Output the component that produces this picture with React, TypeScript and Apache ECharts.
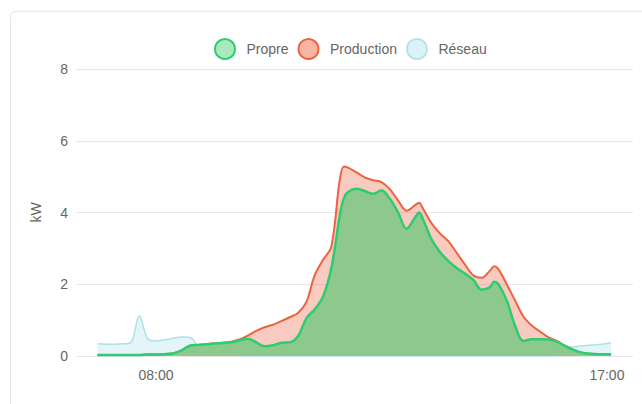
import React, { useEffect, useRef } from "react";
import * as echarts from "echarts";

const times = [
  "06:50", "07:00", "07:10", "07:20", "07:30", "07:40", "07:50", "08:00", "08:10", "08:20",
  "08:30", "08:40", "08:50", "09:00", "09:10", "09:20", "09:30", "09:40", "09:50", "10:00",
  "10:10", "10:20", "10:30", "10:40", "10:50", "11:00", "11:10", "11:20", "11:30", "11:40",
  "11:45", "11:50", "12:00", "12:10", "12:20", "12:30", "12:40", "12:50", "13:00", "13:10",
  "13:15", "13:20", "13:30", "13:40", "13:50", "14:00", "14:10", "14:20", "14:30", "14:40",
  "14:45", "14:50", "15:00", "15:10", "15:20", "15:30", "15:40", "15:50", "16:00", "16:10",
  "16:20", "16:30", "16:40", "16:50", "17:00", "17:05",
];

const propre = [
  0.03, 0.03, 0.03, 0.03, 0.03, 0.03, 0.04, 0.04, 0.05, 0.07,
  0.15, 0.28, 0.31, 0.33, 0.35, 0.36, 0.38, 0.44, 0.48, 0.38,
  0.27, 0.3, 0.37, 0.38, 0.55, 1.05, 1.3, 1.65, 2.45, 3.9,
  4.4, 4.57, 4.66, 4.6, 4.52, 4.62, 4.38, 4.0, 3.55, 3.85,
  4.0, 3.8, 3.25, 2.9, 2.65, 2.45, 2.3, 2.12, 1.85, 1.92,
  2.07, 2.0, 1.55, 0.85, 0.42, 0.47, 0.47, 0.46, 0.4, 0.28,
  0.17, 0.09, 0.06, 0.05, 0.05, 0.05,
];

const production = [
  0.03, 0.03, 0.03, 0.03, 0.03, 0.03, 0.04, 0.04, 0.05, 0.07,
  0.15, 0.28, 0.31, 0.33, 0.35, 0.37, 0.4, 0.46, 0.57, 0.7,
  0.8, 0.87, 0.97, 1.08, 1.2, 1.5, 2.25, 2.68, 3.05, 4.9,
  5.28, 5.25, 5.12, 4.98, 4.9, 4.85, 4.65, 4.33, 4.05, 4.2,
  4.27, 4.1, 3.7, 3.42, 3.2, 2.88, 2.55, 2.25, 2.18, 2.38,
  2.5, 2.42, 2.0, 1.55, 1.1, 0.85, 0.68, 0.52, 0.42, 0.28,
  0.17, 0.09, 0.06, 0.05, 0.05, 0.05,
];

const reseau = [
  0.34, 0.33, 0.33, 0.34, 0.38, 1.12, 0.48, 0.42, 0.45, 0.49,
  0.53, 0.52, 0.3, 0.15, 0.08, 0.18, 0.14, 0.03, 0, 0,
  0, 0, 0, 0, 0, 0, 0, 0, 0, 0,
  0, 0, 0, 0, 0, 0, 0, 0, 0, 0,
  0, 0, 0, 0, 0, 0, 0, 0, 0, 0,
  0, 0, 0, 0, 0, 0, 0, 0, 0.02, 0.22,
  0.26, 0.28, 0.3, 0.32, 0.35, 0.37,
];

const yTicks = [0, 2, 4, 6, 8];
const xLabelHours = [8, 17];

const toHours = (t: string) => {
  const [h, m] = t.split(":").map(Number);
  return h + m / 60;
};
const fmtHour = (v: number) => {
  const h = Math.floor(v);
  const m = Math.round((v - h) * 60);
  return `${String(h).padStart(2, "0")}:${String(m).padStart(2, "0")}`;
};

const pairs = (vals: number[]) => times.map((t, i) => [toHours(t), vals[i]]);

const FONT = "'Liberation Sans', Arial, sans-serif";

export default function App() {
  const ref = useRef<HTMLDivElement>(null);

  useEffect(() => {
    if (!ref.current) return;
    const chart = echarts.init(ref.current, undefined, { renderer: "svg" });
    chart.setOption({
      animation: false,
      backgroundColor: "transparent",
      textStyle: { fontFamily: FONT },
      grid: { left: 76, right: 9, top: 69, bottom: 48 },
      legend: {
        left: 209,
        top: 33,
        icon: "circle",
        itemWidth: 33,
        itemHeight: 20,
        itemGap: 9,
        textStyle: { color: "#666", fontSize: 14, fontFamily: FONT },
        data: [
          { name: "Propre", itemStyle: { color: "#a8e9c0", borderColor: "#2ecc71", borderWidth: 2 } },
          { name: "Production", itemStyle: { color: "#f9b5a3", borderColor: "#ea6440", borderWidth: 2 } },
          { name: "Réseau", itemStyle: { color: "#dcf2f7", borderColor: "#b5e2ec", borderWidth: 2 } },
        ],
      },
      xAxis: {
        type: "value",
        min: 6.403,
        max: 17.521,
        axisLine: { show: false },
        axisTick: { show: false },
        splitLine: { show: false },
        axisLabel: {
          customValues: xLabelHours,
          formatter: (v: number) => fmtHour(v),
          color: "#666",
          fontSize: 14,
          margin: 12,
          fontFamily: FONT,
        },
      },
      yAxis: {
        type: "value",
        min: yTicks[0],
        max: yTicks[yTicks.length - 1],
        interval: 2,
        name: "kW",
        nameLocation: "middle",
        nameGap: 33,
        nameTextStyle: { color: "#666", fontSize: 14, fontFamily: FONT },
        axisLine: { show: false },
        axisTick: { show: false },
        axisLabel: { color: "#666", fontSize: 14, margin: 8, fontFamily: FONT },
        splitLine: { lineStyle: { color: "#e6e6e6", width: 1 } },
      },
      series: [
        {
          name: "Propre",
          type: "line",
          data: pairs(propre),
          smooth: 0.35,
          showSymbol: false,
          z: 4,
          itemStyle: { color: "#a8e9c0", borderColor: "#2ecc71", borderWidth: 2 },
          lineStyle: { color: "#2ecc71", width: 2.5 },
          areaStyle: { color: "#8dc88d", opacity: 1 },
        },
        {
          name: "Production",
          type: "line",
          data: pairs(production),
          smooth: 0.35,
          showSymbol: false,
          z: 3,
          itemStyle: { color: "#f9b5a3", borderColor: "#ea6440", borderWidth: 2 },
          lineStyle: { color: "#ea6440", width: 2 },
          areaStyle: { color: "rgba(240,120,90,0.55)" },
        },
        {
          name: "Réseau",
          type: "line",
          data: pairs(reseau),
          smooth: 0.35,
          showSymbol: false,
          z: 2,
          itemStyle: { color: "#dcf2f7", borderColor: "#b5e2ec", borderWidth: 2 },
          lineStyle: { color: "#ade0ea", width: 1.5 },
          areaStyle: { color: "rgba(170,222,235,0.45)" },
        },
      ],
    });
    return () => chart.dispose();
  }, []);

  return (
    <div style={{ position: "fixed", left: 0, top: 0, width: 642, height: 404, overflow: "hidden", background: "#fff" }}>
      <div
        style={{
          position: "absolute",
          left: 10,
          top: 11,
          width: 720,
          height: 500,
          border: "1px solid #e8e8e8",
          borderRadius: 6,
          boxShadow: "0 0 2px rgba(0,0,0,0.04)",
        }}
      />
      <div ref={ref} style={{ position: "absolute", left: 0, top: 0, width: 642, height: 404 }} />
    </div>
  );
}
